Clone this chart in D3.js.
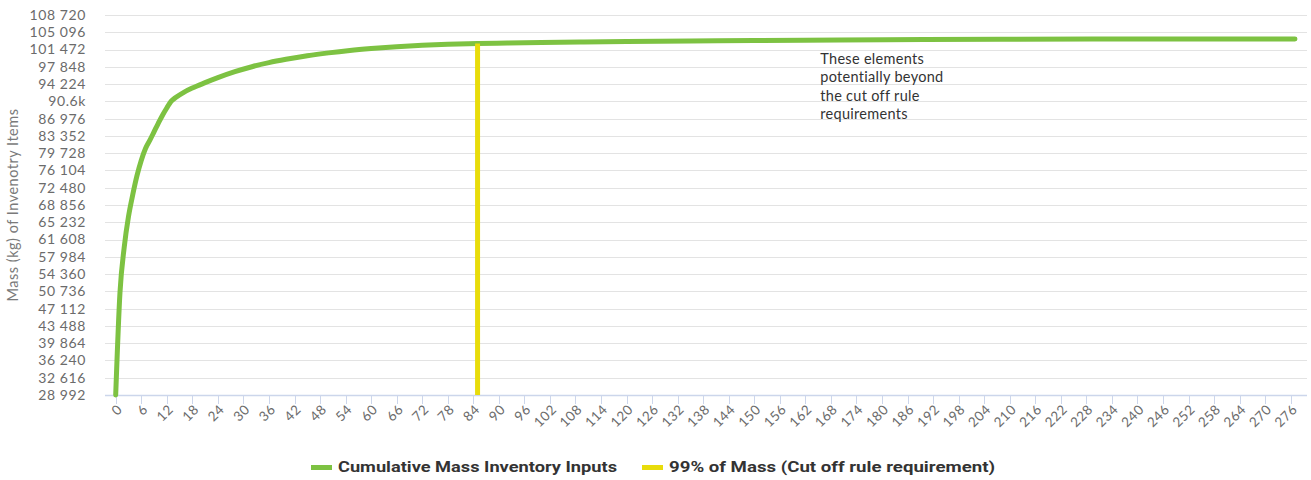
<!DOCTYPE html>
<html>
<head>
<meta charset="utf-8">
<script src="https://cdn.jsdelivr.net/npm/d3@7"></script>
<style>
  html, body { margin: 0; padding: 0; background: #fff; }
  svg { display: block; }
</style>
</head>
<body>
<div id="chart"></div>
<script>
// Cumulative mass curve (item index -> kg)
const itemIndex = [0, 1, 2, 3, 4, 5, 6, 7, 8, 9, 10, 11, 12, 13, 14, 16, 18, 21, 24, 28, 32, 36, 40, 45, 50, 55, 60, 66, 72, 78, 85, 92, 100, 110, 120, 135, 150, 170, 190, 210, 230, 250, 277];
const cumulativeMass = [28992, 50400, 60000, 66400, 71000, 75000, 78200, 80700, 82400, 84200, 86000, 87700, 89200, 90600, 91350, 92500, 93400, 94520, 95570, 96820, 97870, 98720, 99420, 100170, 100770, 101270, 101670, 102070, 102370, 102580, 102720, 102830, 102930, 103040, 103140, 103270, 103380, 103490, 103570, 103630, 103670, 103690, 103700];

// 99% cut off line
const cutoffIndex = [85, 85];
const cutoffMass = [28992, 102720];

const yTickValues = [28992, 32616, 36240, 39864, 43488, 47112, 50736, 54360, 57984, 61608, 65232, 68856, 72480, 76104, 79728, 83352, 86976, 90600, 94224, 97848, 101472, 105096, 108720];
const yTickLabels = ['28 992', '32 616', '36 240', '39 864', '43 488', '47 112', '50 736', '54 360', '57 984', '61 608', '65 232', '68 856', '72 480', '76 104', '79 728', '83 352', '86 976', '90.6k', '94 224', '97 848', '101 472', '105 096', '108 720'];
const xTickValues = [0, 6, 12, 18, 24, 30, 36, 42, 48, 54, 60, 66, 72, 78, 84, 90, 96, 102, 108, 114, 120, 126, 132, 138, 144, 150, 156, 162, 168, 174, 180, 186, 192, 198, 204, 210, 216, 222, 228, 234, 240, 246, 252, 258, 264, 270, 276];

const seriesNames = ['Cumulative Mass Inventory Inputs', '99% of Mass (Cut off rule requirement)'];
const seriesColors = ['#7dc242', '#e8dc0b'];
const noteLines = ['These elements', 'potentially beyond', 'the cut off rule', 'requirements'];

const width = 1311;
const height = 480;
const plotLeft = 105;
const plotRight = 1307;
const plotTop = 15;
const plotBottom = 395;

const svg = d3.select('#chart')
  .append('svg')
  .attr('width', width)
  .attr('height', height)
  .attr('viewBox', [0, 0, width, height]);

const x = d3.scaleLinear()
  .domain([0, 276])
  .range([115.7, 1290.7]);

const y = d3.scaleLinear()
  .domain([28992, 108720])
  .range([plotBottom, plotTop]);

const labelFont = 'Lato, "Open Sans", sans-serif';

// gridlines
svg.append('g')
  .selectAll('line')
  .data(yTickValues.slice(1))
  .join('line')
  .attr('x1', plotLeft)
  .attr('x2', plotRight)
  .attr('y1', d => Math.round(y(d)) + 0.5)
  .attr('y2', d => Math.round(y(d)) + 0.5)
  .attr('stroke', '#e3e3e3')
  .attr('stroke-width', 1);

// y axis labels
svg.append('g')
  .selectAll('text')
  .data(yTickValues)
  .join('text')
  .attr('x', 86)
  .attr('y', d => y(d))
  .attr('dy', '0.35em')
  .attr('text-anchor', 'end')
  .attr('fill', '#6b6b6b')
  .style('font-family', labelFont)
  .style('font-size', '14px')
  .style('letter-spacing', '0.6px')
  .text((d, i) => yTickLabels[i]);

// y axis title
svg.append('text')
  .attr('transform', `translate(18,205) rotate(-90)`)
  .attr('text-anchor', 'middle')
  .attr('fill', '#7a7a7a')
  .style('font-family', labelFont)
  .style('font-size', '14.5px')
  .style('letter-spacing', '0.5px')
  .text('Mass (kg) of Invenotry Items');

// x axis line + ticks
const xAxis = svg.append('g');
xAxis.append('line')
  .attr('x1', plotLeft)
  .attr('x2', plotRight)
  .attr('y1', plotBottom + 0.5)
  .attr('y2', plotBottom + 0.5)
  .attr('stroke', '#ccd6eb')
  .attr('stroke-width', 1.5);

xAxis.selectAll('line.tick')
  .data(xTickValues)
  .join('line')
  .attr('class', 'tick')
  .attr('x1', d => Math.round(x(d)) + 0.5)
  .attr('x2', d => Math.round(x(d)) + 0.5)
  .attr('y1', plotBottom)
  .attr('y2', plotBottom + 9)
  .attr('stroke', '#ccd6eb');

xAxis.selectAll('text')
  .data(xTickValues)
  .join('text')
  .attr('transform', d => `translate(${x(d) + 4},${plotBottom + 12}) rotate(-45)`)
  .attr('text-anchor', 'end')
  .attr('dy', '0.35em')
  .attr('fill', '#6b6b6b')
  .style('font-family', labelFont)
  .style('font-size', '13.5px')
  .style('letter-spacing', '0.5px')
  .text(d => d);

// cumulative line
const line = d3.line()
  .x(d => x(d[0]))
  .y(d => y(d[1]))
  .curve(d3.curveMonotoneX);

svg.append('path')
  .datum(itemIndex.map((d, i) => [d, cumulativeMass[i]]))
  .attr('d', line)
  .attr('fill', 'none')
  .attr('stroke', seriesColors[0])
  .attr('stroke-width', 5)
  .attr('stroke-linejoin', 'round')
  .attr('stroke-linecap', 'round');

// cut off line
svg.append('path')
  .datum(cutoffIndex.map((d, i) => [d, cutoffMass[i]]))
  .attr('d', d3.line().x(d => x(d[0])).y(d => y(d[1])))
  .attr('fill', 'none')
  .attr('stroke', seriesColors[1])
  .attr('stroke-width', 5)
  .attr('stroke-linecap', 'butt');

// annotation
svg.append('text')
  .attr('fill', '#333')
  .style('font-family', labelFont)
  .style('font-size', '14.5px')
  .style('letter-spacing', '0.3px')
  .selectAll('tspan')
  .data(noteLines)
  .join('tspan')
  .attr('x', x(165.5))
  .attr('y', (d, i) => y(99500) + i * 18.3)
  .attr('dy', '0.35em')
  .text(d => d);

// legend
const legendItems = [
  { swatch: 311, text: 338, width: 279 },
  { swatch: 642, text: 669, width: 326 }
];
const legend = svg.append('g');
legendItems.forEach((item, i) => {
  legend.append('rect')
    .attr('x', item.swatch)
    .attr('y', 465)
    .attr('width', 21)
    .attr('height', 5)
    .attr('fill', seriesColors[i]);
  legend.append('text')
    .attr('x', item.text)
    .attr('y', 467.5)
    .attr('dy', '0.35em')
    .attr('fill', '#333')
    .attr('textLength', item.width)
    .attr('lengthAdjust', 'spacingAndGlyphs')
    .style('font-family', 'Roboto, sans-serif')
    .style('font-weight', 'bold')
    .style('font-size', '14px')
    .text(seriesNames[i]);
});
</script>
</body>
</html>
